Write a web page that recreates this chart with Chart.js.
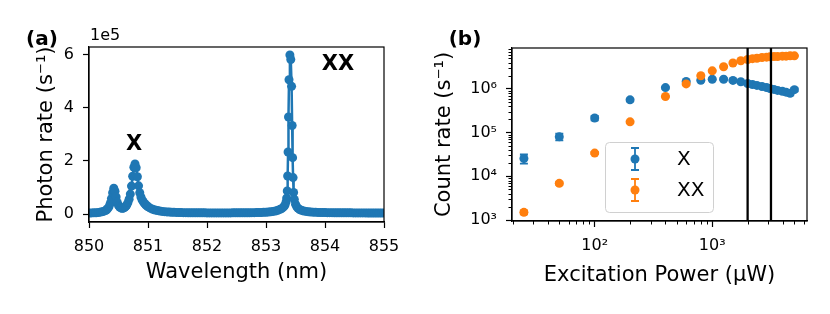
<!DOCTYPE html>
<html>
<head>
<meta charset="utf-8">
<script src="https://cdn.jsdelivr.net/npm/chart.js@4.4.0/dist/chart.umd.min.js"></script>
<style>
  html, body { margin: 0; padding: 0; background: #fff; }
  #wrap { position: relative; width: 830px; height: 314px; }
  canvas { position: absolute; top: 0; }
</style>
</head>
<body>
<div id="wrap">
  <canvas id="spec" width="415" height="314" style="left:0px"></canvas>
  <canvas id="power" width="415" height="314" style="left:415px"></canvas>
</div>
<script>
// (a) spectrum
const wavelength = [
  850.00, 850.04, 850.08, 850.12, 850.16, 850.20, 850.24, 850.28,
  850.30, 850.32, 850.34, 850.36, 850.38, 850.40, 850.42, 850.44, 850.46, 850.48,
  850.50, 850.52, 850.54, 850.56, 850.58, 850.60, 850.62, 850.64, 850.66, 850.68,
  850.70, 850.72, 850.74, 850.76, 850.78, 850.80, 850.82, 850.84, 850.86, 850.88,
  850.90, 850.92, 850.94, 850.96, 850.98, 851.00, 851.04, 851.08, 851.12, 851.16,
  851.20, 851.24, 851.28, 851.32, 851.36, 851.40, 851.44, 851.48, 851.52, 851.56,
  851.60, 851.64, 851.68, 851.72, 851.76, 851.80, 851.84, 851.88, 851.92, 851.96,
  852.00, 852.04, 852.08, 852.12, 852.16, 852.20, 852.24, 852.28, 852.32, 852.36,
  852.40, 852.44, 852.48, 852.52, 852.56, 852.60, 852.64, 852.68, 852.72, 852.76,
  852.80, 852.84, 852.88, 852.92, 852.96,
  853.00, 853.04, 853.08, 853.12, 853.16, 853.20, 853.24, 853.27, 853.30, 853.32,
  853.34, 853.35, 853.36, 853.367, 853.374, 853.381, 853.39, 853.405, 853.42, 853.434,
  853.443, 853.451, 853.459, 853.468, 853.48, 853.50, 853.52, 853.54, 853.57, 853.60,
  853.64, 853.68, 853.72, 853.76, 853.80, 853.84, 853.88, 853.92, 853.96,
  854.00, 854.04, 854.08, 854.12, 854.16, 854.20, 854.24, 854.28, 854.32, 854.36,
  854.40, 854.44, 854.48, 854.52, 854.56, 854.60, 854.64, 854.68, 854.72, 854.76,
  854.80, 854.84, 854.88, 854.92, 854.96, 855.00
];
const photonRate = [
  4000, 4100, 4400, 4900, 5800, 7200, 9500, 13000,
  16000, 21000, 28000, 40000, 58000, 80000, 97000, 86000, 64000, 44000,
  32000, 26000, 23000, 21500, 22000, 24000, 28000, 34000, 43000, 56000,
  75000, 105000, 142000, 176000, 188000, 174000, 140000, 106000, 80000, 64000,
  53000, 46000, 40000, 35000, 31000, 27500, 22000, 18000, 15000, 12800,
  11000, 9800, 8800, 8000, 7300, 6800, 6300, 6000, 5700, 5400,
  5200, 5000, 4900, 4800, 4700, 4600, 4500, 4500, 4400, 4400,
  4300, 4300, 4300, 4200, 4200, 4200, 4200, 4200, 4300, 4300,
  4300, 4400, 4400, 4500, 4500, 4600, 4700, 4800, 4900, 5000,
  5200, 5400, 5600, 5900, 6300,
  6800, 7500, 8500, 9800, 11500, 14000, 17500, 21000, 27000, 33000,
  45000, 60000, 87000, 143000, 233000, 365000, 505000, 598000, 581000, 480000,
  333000, 212000, 137000, 81000, 55000, 37000, 28000, 22000, 17000, 14000,
  11500, 9800, 8600, 7700, 7000, 6500, 6100, 5800, 5500,
  5300, 5200, 5100, 5000, 4900, 4800, 4700, 4600, 4500, 4500,
  4400, 4400, 4300, 4300, 4200, 4200, 4100, 4100, 4000, 4000,
  4000, 3900, 3900, 3800, 3800, 3800
];
const specXTicks = [850, 851, 852, 853, 854, 855];
const specYTicks = [0, 200000, 400000, 600000];

// (b) power series
const power   = [25, 50, 100, 200, 400, 600, 800, 1000, 1250, 1500, 1750, 2000,
                 2200, 2400, 2650, 2900, 3100, 3350, 3600, 3950, 4250, 4600, 5000];
const countX  = [2.55e4, 8.0e4, 2.15e5, 5.6e5, 1.07e6, 1.47e6, 1.57e6, 1.66e6, 1.66e6, 1.56e6, 1.45e6, 1.33e6,
                 1.26e6, 1.2e6, 1.13e6, 1.07e6, 1.02e6, 0.97e6, 0.92e6, 0.88e6, 0.84e6, 0.79e6, 0.96e6];
const errX    = [6e3, 1.4e4, 2.5e4, 4e4, 6e4, 8e4, 8e4, 8e4, 8e4, 8e4, 8e4, 8e4,
                 8e4, 8e4, 8e4, 8e4, 8e4, 8e4, 8e4, 8e4, 8e4, 8e4, 8e4];
const countXX = [1.5e3, 6.9e3, 3.4e4, 1.76e5, 6.7e5, 1.3e6, 2.0e6, 2.58e6, 3.2e6, 3.9e6, 4.4e6, 4.7e6,
                 4.9e6, 5.0e6, 5.2e6, 5.3e6, 5.4e6, 5.5e6, 5.5e6, 5.6e6, 5.6e6, 5.7e6, 5.7e6];
const errXX   = [150, 500, 2000, 8000, 2e4, 4e4, 5e4, 6e4, 7e4, 8e4, 8e4, 8e4,
                 8e4, 8e4, 8e4, 8e4, 8e4, 8e4, 8e4, 8e4, 8e4, 8e4, 8e4];
const markerPowers = [2000, 3160];
const powerXTicks = [100, 1000];
const powerYTicks = [1e3, 1e4, 1e5, 1e6];
const supers = {100: '10²', 1000: '10³', 10000: '10⁴', 100000: '10⁵', 1000000: '10⁶'};

const blue = '#1f77b4';
const orange = '#ff7f0e';

Chart.defaults.font.family = "'DejaVu Sans'";
Chart.defaults.font.size = 16;
Chart.defaults.color = '#000';

function boxPlugin() {
  return {
    id: 'box',
    afterDraw(chart) {
      const {ctx, chartArea: a} = chart;
      ctx.save();
      ctx.strokeStyle = '#000';
      ctx.lineWidth = 1.2;
      ctx.strokeRect(a.left, a.top, a.right - a.left, a.bottom - a.top);
      ctx.restore();
    }
  };
}

function textPlugin(items) {
  return {
    id: 'texts',
    afterDraw(chart) {
      const ctx = chart.ctx;
      ctx.save();
      ctx.fillStyle = '#000';
      ctx.textBaseline = 'middle';
      items.forEach(t => {
        ctx.font = t.font;
        ctx.textAlign = t.align || 'center';
        ctx.fillText(t.text, t.x, t.y);
      });
      ctx.restore();
    }
  };
}

function axisOpts() {
  return {
    ticks: { padding: 9, font: { size: 16 }, color: '#000', maxRotation: 0, autoSkip: false },
    grid: { drawOnChartArea: false, tickLength: 6, tickWidth: 1.2, tickColor: '#000' },
    border: { color: '#000', width: 1.2 }
  };
}

// ---------- (a)
new Chart(document.getElementById('spec'), {
  type: 'scatter',
  data: {
    datasets: [{
      data: wavelength.map((w, i) => ({x: w, y: photonRate[i]})),
      showLine: true,
      borderColor: blue,
      backgroundColor: blue,
      borderWidth: 2.5,
      pointRadius: 4.5,
      pointBorderWidth: 0,
      pointHoverRadius: 4.5
    }]
  },
  options: {
    responsive: false,
    animation: false,
    devicePixelRatio: 1,
    layout: { padding: { left: 0, top: 47, right: 31, bottom: 0 } },
    plugins: { legend: { display: false }, tooltip: { enabled: false } },
    scales: {
      x: Object.assign(axisOpts(), {
        type: 'linear', min: 850, max: 855,
        afterBuildTicks: s => { s.ticks = specXTicks.map(v => ({value: v})); },
        afterFit: s => { s.height = 92; },
        title: { display: true, text: 'Wavelength (nm)', color: '#000',
                 font: { size: 21, lineHeight: 1.2 }, padding: { top: 0, bottom: 29 } }
      }),
      y: Object.assign(axisOpts(), {
        type: 'linear', min: -30000, max: 628000,
        afterBuildTicks: s => { s.ticks = specYTicks.map(v => ({value: v})); },
        afterFit: s => { s.width = 89; },
        title: { display: true, text: 'Photon rate (s⁻¹)', color: '#000',
                 font: { size: 21, lineHeight: 1.2 }, padding: { top: 34, bottom: 0 } }
      })
    }
  },
  plugins: [boxPlugin(), textPlugin([
    { text: '(a)', x: 42, y: 40, font: "bold 20px 'DejaVu Sans'" },
    { text: '1e5', x: 90, y: 36, font: "16px 'DejaVu Sans'", align: 'left' },
    { text: 'X', x: 134, y: 145, font: "bold 21px 'DejaVu Sans'" },
    { text: 'XX', x: 338, y: 65, font: "bold 21px 'DejaVu Sans'" }
  ])]
});

// ---------- (b)
const errorBars = {
  id: 'errorBars',
  beforeDatasetsDraw(chart) {
    const {ctx, scales: {x, y}} = chart;
    ctx.save();
    ctx.lineWidth = 1.8;
    chart.data.datasets.forEach(ds => {
      if (!ds.errors) return;
      ctx.strokeStyle = ds.borderColor;
      ds.data.forEach((p, j) => {
        const px = x.getPixelForValue(p.x);
        const hi = y.getPixelForValue(p.y + ds.errors[j]);
        const lo = y.getPixelForValue(Math.max(p.y - ds.errors[j], 1));
        ctx.beginPath();
        ctx.moveTo(px, hi); ctx.lineTo(px, lo);
        ctx.moveTo(px - 4, hi); ctx.lineTo(px + 4, hi);
        ctx.moveTo(px - 4, lo); ctx.lineTo(px + 4, lo);
        ctx.stroke();
      });
    });
    ctx.restore();
  }
};

const minorTicks = {
  id: 'minorTicks',
  afterDraw(chart) {
    const {ctx, chartArea: a, scales: {x, y}} = chart;
    ctx.save();
    ctx.strokeStyle = '#000';
    ctx.lineWidth = 1;
    for (let e = 0; e <= 7; e++) {
      for (let m = 2; m <= 9; m++) {
        const v = m * Math.pow(10, e);
        if (v > x.min && v < x.max) {
          const px = Math.round(x.getPixelForValue(v)) + 0.5;
          ctx.beginPath(); ctx.moveTo(px, a.bottom); ctx.lineTo(px, a.bottom + 3.5); ctx.stroke();
        }
        if (v > y.min && v < y.max) {
          const py = Math.round(y.getPixelForValue(v)) + 0.5;
          ctx.beginPath(); ctx.moveTo(a.left, py); ctx.lineTo(a.left - 3.5, py); ctx.stroke();
        }
      }
    }
    ctx.restore();
  }
};

const vLines = {
  id: 'vLines',
  afterDatasetsDraw(chart) {
    const {ctx, chartArea: a, scales: {x}} = chart;
    ctx.save();
    ctx.strokeStyle = '#000';
    ctx.lineWidth = 2.3;
    markerPowers.forEach(p => {
      const px = x.getPixelForValue(p);
      ctx.beginPath(); ctx.moveTo(px, a.top); ctx.lineTo(px, a.bottom); ctx.stroke();
    });
    ctx.restore();
  }
};

const errLegend = {
  id: 'errLegend',
  afterDraw(chart) {
    const ctx = chart.ctx;
    ctx.save();
    ctx.beginPath();
    ctx.roundRect(190.5, 142.5, 108, 70, 4);
    ctx.fillStyle = 'rgba(255,255,255,0.8)';
    ctx.fill();
    ctx.strokeStyle = '#d0d0d0';
    ctx.lineWidth = 1;
    ctx.stroke();
    const rows = [159, 190];
    chart.data.datasets.slice().sort((a, b) => a.legendRow - b.legendRow).forEach((ds, i) => {
      const cy = rows[i], cx = 220;
      ctx.strokeStyle = ds.borderColor;
      ctx.lineWidth = 1.8;
      ctx.beginPath();
      ctx.moveTo(cx, cy - 11); ctx.lineTo(cx, cy + 11);
      ctx.moveTo(cx - 4, cy - 11); ctx.lineTo(cx + 4, cy - 11);
      ctx.moveTo(cx - 4, cy + 11); ctx.lineTo(cx + 4, cy + 11);
      ctx.stroke();
      ctx.fillStyle = ds.backgroundColor;
      ctx.beginPath(); ctx.arc(cx, cy, 4.5, 0, Math.PI * 2); ctx.fill();
      ctx.fillStyle = '#000';
      ctx.font = "20px 'DejaVu Sans'";
      ctx.textAlign = 'left';
      ctx.textBaseline = 'middle';
      ctx.fillText(ds.label, 262, cy + 1);
    });
    ctx.restore();
  }
};

new Chart(document.getElementById('power'), {
  type: 'scatter',
  data: {
    datasets: [{
      label: 'XX',
      legendRow: 1,
      order: 0,
      data: power.map((p, i) => ({x: p, y: countXX[i]})),
      errors: errXX,
      borderColor: orange,
      backgroundColor: orange,
      pointRadius: 4.5,
      pointBorderWidth: 0,
      pointHoverRadius: 4.5
    }, {
      label: 'X',
      legendRow: 0,
      order: 1,
      data: power.map((p, i) => ({x: p, y: countX[i]})),
      errors: errX,
      borderColor: blue,
      backgroundColor: blue,
      pointRadius: 4.5,
      pointBorderWidth: 0,
      pointHoverRadius: 4.5
    }]
  },
  options: {
    responsive: false,
    animation: false,
    devicePixelRatio: 1,
    layout: { padding: { left: 0, top: 48, right: 23, bottom: 0 } },
    plugins: { legend: { display: false }, tooltip: { enabled: false } },
    scales: {
      x: Object.assign(axisOpts(), {
        type: 'logarithmic', min: 19.8, max: 6400,
        afterBuildTicks: s => { s.ticks = powerXTicks.map(v => ({value: v})); },
        afterFit: s => { s.height = 93; },
        title: { display: true, text: 'Excitation Power (µW)', color: '#000',
                 font: { size: 21, lineHeight: 1.2 }, padding: { top: 0, bottom: 26 } }
      }),
      y: Object.assign(axisOpts(), {
        type: 'logarithmic', min: 950, max: 8.6e6,
        afterBuildTicks: s => { s.ticks = powerYTicks.map(v => ({value: v})); },
        afterFit: s => { s.width = 97; },
        title: { display: true, text: 'Count rate (s⁻¹)', color: '#000',
                 font: { size: 21, lineHeight: 1.2 }, padding: { top: 17, bottom: 0 } }
      })
    }
  },
  plugins: [errorBars, vLines, minorTicks, boxPlugin(), errLegend, textPlugin([
    { text: '(b)', x: 50, y: 40, font: "bold 20px 'DejaVu Sans'" }
  ])]
});

// tick label formatting
Chart.getChart('spec').options.scales.y.ticks.callback = v => String(v / 1e5);
Chart.getChart('spec').options.scales.x.ticks.callback = v => String(v);
Chart.getChart('spec').update();
Chart.getChart('power').options.scales.x.ticks.callback = v => supers[v] || '';
Chart.getChart('power').options.scales.y.ticks.callback = v => supers[v] || '';
Chart.getChart('power').update();
</script>
</body>
</html>
